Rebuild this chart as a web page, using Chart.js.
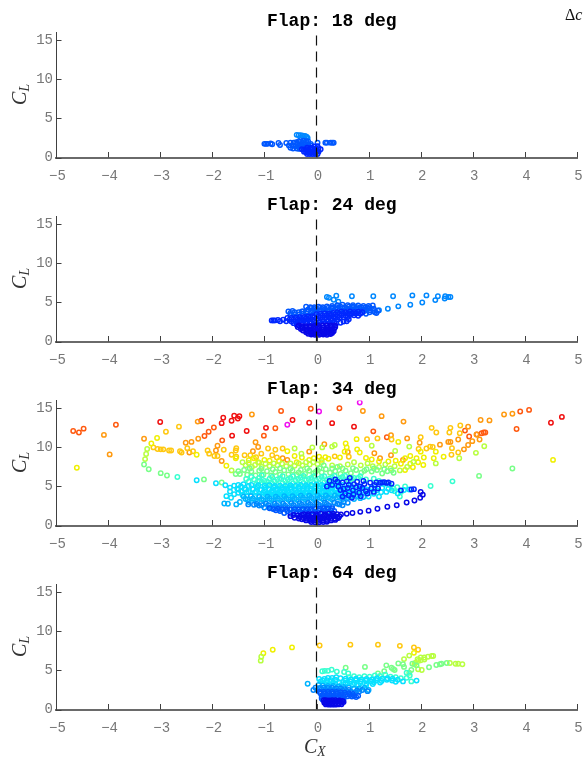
<!DOCTYPE html>
<html>
<head>
<meta charset="utf-8">
<title>Flap polar scatter</title>
<script src="https://cdn.jsdelivr.net/npm/chart.js@4"></script>
<style>
  html, body { margin: 0; padding: 0; background: #fff; overflow: hidden; }
  #page { position: relative; width: 584px; height: 758px; overflow: hidden; }
  canvas { position: absolute; left: 0; }
  .lbl { position: absolute; font-family: "Liberation Serif", serif; color: #333; white-space: nowrap; }
  .lbl sub { font-size: 68%; vertical-align: -3px; line-height: 0; }
  .ylab { font-size: 20px; left: 6px; width: 26px; text-align: center; transform: rotate(-90deg); }
  .flap { position: absolute; left: 267px; font: bold 18px "Liberation Mono", monospace; color: #000; white-space: pre; }
</style>
</head>
<body>
<div id="page">
  <canvas id="c18" width="584" height="184" style="top:0"></canvas>
  <canvas id="c24" width="584" height="184" style="top:184px"></canvas>
  <canvas id="c34" width="584" height="184" style="top:368px"></canvas>
  <canvas id="c64" width="584" height="184" style="top:552px"></canvas>
  <div class="flap" style="top:11px" id="t18"></div>
  <div class="flap" style="top:195px" id="t24"></div>
  <div class="flap" style="top:379px" id="t34"></div>
  <div class="flap" style="top:563px" id="t64"></div>
  <div class="lbl ylab" style="top:83px"><i>C<sub>L</sub></i></div>
  <div class="lbl ylab" style="top:267px"><i>C<sub>L</sub></i></div>
  <div class="lbl ylab" style="top:451px"><i>C<sub>L</sub></i></div>
  <div class="lbl ylab" style="top:635px"><i>C<sub>L</sub></i></div>
  <div class="lbl" style="left:304px;top:735px;font-size:20px"><i>C<sub>X</sub></i></div>
  <div class="lbl" style="left:565px;top:6px;font-size:16px;color:#111">&Delta;<i>c</i></div>
</div>
<script>
const xTicks = [-5, -4, -3, -2, -1, 0, 1, 2, 3, 4, 5];
const yTicks = [0, 5, 10, 15];
const flapTitles = ['Flap: 18 deg', 'Flap: 24 deg', 'Flap: 34 deg', 'Flap: 64 deg'];
const zeroLine = [[0, 0], [0, 16]];

// jet colours used below, hot to cold
const cRed = '#f01010', cRedOrange = '#ff5a10', cOrange = '#ff9a10', cAmber = '#ffc810', cYellow = '#f0f000';
const cLime = '#b8ff40', cGreen = '#78ff88', cTeal = '#38ffd0', cCyan = '#08e0ff', cSky = '#00b4ff';
const cAzure = '#0088ff', cBlue = '#0058ff', cDeep = '#0028ff', cNavy = '#0808e8', cMagenta = '#f010f0';

// Flap 18
const f18Azure = [[-.38,2.9],[-.34,2.85],[-.3,2.85],[-.26,2.8],[-.22,2.75],[-.19,2.65],[-.17,2.5],[-.3,2.55],[-.24,2.45]];
const f18Blue = [[-1,1.75],[-.97,1.75],[-.94,1.75],[-.88,1.8],[-.85,1.7],[-.73,1.85],[-.7,1.6],[-.58,1.85],[-.53,1.55],[-.5,1.9],[-.44,1.9],[-.39,1.95],[.02,1.9],[.17,1.9],[.2,1.9],[.27,1.9],[.3,1.9],[.33,1.88],
  [-.34,2.1],[-.3,2.05],[-.25,2.15],[-.2,2.1],[-.16,2.05],[-.36,1.75],[-.31,1.7],[-.26,1.75],[-.21,1.75],[-.16,1.7],[-.11,1.75],[-.45,1.5],[-.4,1.45],[-.35,1.45],[-.3,1.4],[-.25,1.45],[-.2,1.4],[-.5,1.25],[-.45,1.15],[-.38,1.15],[-.33,1.1],[-.1,1.5]];
const f18Deep = [[-.28,1.05],[-.24,1],[-.2,1.05],[-.16,1],[-.12,1.1],[-.08,1.05],[-.04,1.1],[0,1.1],[.04,1.2],[.08,1.05],[-.24,.75],[-.2,.65],[-.16,.75],[-.12,.65],[-.08,.75],[-.04,.65],[0,.75],[.04,.75],[-.18,.45],[-.13,.45],[-.08,.45],[-.03,.45],[.02,.45],[-.04,1.4],[.02,1.45],[-.1,1.25],[-.18,1.25]];

// Flap 24
const f24Azure = [[.2,5.7],[.24,5.6],[.38,5.85],[.33,5.35],[.42,5.1],[.68,5.8],[1.09,5.8],[1.47,5.8],[1.84,5.9],[2.11,5.9],[2.33,5.8],[2.47,5.8],[2.57,5.7],[2.53,5.7],[2.46,5.5],[2.28,5.3],[2.03,5],[1.8,4.7],[1.57,4.5],[1.37,4.2],[1.2,4],[-.26,1.75]];
const f24Blue = [[-.54,3.85],[-.46,3.9],[-.28,3.85],[-.2,4.45],[-.12,4.4],[-.04,4.4],[.04,4.45],[.12,4.4],[.2,4.5],[.3,4.55],[.4,4.65],[.5,4.7],[.6,4.65],[.7,4.65],[.8,4.6],[.9,4.55],[1,4.55],[1.08,4.6],
  [.3,4.2],[.4,4.2],[.5,4.25],[.6,4.2],[.7,4.3],[.8,4.2],[.9,4.15],[1,4.2],[1.1,4.2],[1.18,3.95],[1.12,3.75],[1.02,3.75],[.95,3.55],[1.15,3.65],[-.16,4.1],[-.08,4],[0,4.1],[.08,4.05],[.16,4.1],[.24,4],[-.5,3.4],[-.42,3.5],[-.34,3.45],[-.26,3.55],[-.18,3.6],[-.1,3.65],
  [-.1,4.3],[-.02,4.25],[.06,4.3],[.14,4.25],[.22,4.3],[.3,4.35],[.38,4.4],[.46,4.45],[.54,4.4],[.62,4.45],[.7,4.45],[.78,4.4],[.86,4.4],[.94,4.35],[1.02,4.4],[.34,3.95],[.44,4],[.54,3.95],[.62,4],[.72,4],[.82,3.95],[.92,3.9],[1.02,4],[1.1,3.9],[-.5,3.65],[-.42,3.75],[-.34,3.75],[-.26,3.85],[-.18,3.85],[-.1,3.85],[-.02,3.8],[.06,3.85],[.14,3.85],[.22,3.8]];
const f24Deep = [[-.86,2.7],[-.83,2.7],[-.8,2.7],[-.74,2.75],[-.7,2.6],[-.64,2.8],[-.58,2.6],[-.56,3],[-.48,3],[-.4,3.05],[-.32,3.1],[-.24,3.15],[-.16,3.2],[-.08,3.25],[0,3.5],[.08,3.55],[.16,3.6],[.24,3.55],[.32,3.65],[.4,3.75],[.48,3.8],[.56,3.75],[.64,3.85],[.72,3.75],[.8,3.8],[.88,3.75],
  [-.48,2.55],[-.4,2.6],[-.32,2.65],[-.24,2.7],[-.16,2.75],[-.08,2.8],[0,2.9],[.08,3.05],[.16,3],[.24,3.1],[.32,3.15],[.4,3.25],[.48,3.35],[.56,3.3],[.64,3.4],[.72,3.35],[.8,3.3],
  [.38,2.35],[.46,2.4],[.52,2.55],[.58,2.6],[.62,2.85],[.4,2.8],[.3,2.7],[.22,2.6],[.14,2.55],[.06,2.45],[-.02,2.4],[-.1,2.35],[-.2,2.3],[-.28,2.25],[-.38,2.15],
  [-.52,2.8],[-.44,2.8],[-.36,2.85],[-.28,2.9],[-.2,2.95],[-.12,3],[-.04,3.1],[.04,3.25],[.12,3.3],[.2,3.35],[.28,3.4],[.36,3.45],[.44,3.55],[.52,3.55],[.6,3.6],[.68,3.6],[.76,3.6],[.84,3.55],[-.44,2.35],[-.36,2.4],[-.28,2.45],[-.2,2.5],[-.12,2.55],[-.04,2.6],[.04,2.7],[.12,2.8],[.2,2.85],[.28,2.95],[.36,3],[.44,3.05],[.52,3.1],[.6,3.15],[-.06,2.15],[.02,2.2],[.1,2.25],[.18,2.3],[.26,2.35],[.34,2.4]];
const f24Navy = [[-.34,2.05],[-.28,1.95],[-.2,1.95],[-.12,1.95],[-.04,2],[.04,2],[.12,2.05],[.2,2.05],[.28,2.05],[.36,2.05],[-.3,1.6],[-.2,1.55],[-.12,1.55],[-.04,1.6],[.04,1.6],[.12,1.55],[.2,1.6],[.28,1.6],[.34,1.65],[-.2,1.2],[-.12,1.15],[-.04,1.2],[.04,1.15],[.12,1.2],[.2,1.2],[.28,1.2],[.33,1.3],[-.1,.9],[-.03,.85],[.05,.85],[.13,.9],[.2,.85],[.27,.95],
  [-.36,1.85],[-.28,1.75],[-.2,1.75],[-.12,1.75],[-.04,1.8],[.04,1.8],[.12,1.8],[.2,1.8],[.28,1.85],[.36,1.85],[-.26,1.4],[-.18,1.35],[-.1,1.35],[-.02,1.4],[.06,1.4],[.14,1.35],[.22,1.4],[.3,1.45],[-.16,1],[-.08,1],[0,1],[.08,1],[.16,1],[.24,1.05],[.3,1.1]];

// Flap 34
const f34Magenta = [[-.56,12.9],[.05,14.6],[.83,15.75]];
const f34Red = [[-3,13.25],[-2.21,13.4],[-1.79,13.8],[-1.82,13.1],[-1.63,13.4],[-1.58,14.05],[-1.48,14],[-1.51,13.7],[-1.34,12.1],[-1.62,11.5],[-.97,12.5],[-.46,13.5],[-.14,13.15],[.3,13.1],[.72,12.65],[4.5,13.15],[4.71,13.9]];
const f34RedOrange = [[-4.67,12.1],[-4.56,11.9],[-4.47,12.4],[-3.85,12.9],[-1.97,12.55],[-2.07,12],[-2.15,11.45],[-1.81,10.9],[-.79,12.45],[-1.01,11.5],[-.68,14.65],[-.11,14.95],[.44,15],[1.09,12.05],[2.85,12.15],[3.84,12.35],[4.08,14.8],[3.91,14.6],[2.93,11.4],[3.08,11.65],[3.17,11.8],[3.21,11.9],[3.24,11.9],[1.35,11.3]];
const f34Orange = [[-4.08,11.6],[-3.97,9.1],[-3.31,11.1],[-2.51,10.6],[-2.4,10.7],[-2.44,9.35],[-2.28,13.3],[-2.27,11.1],[-1.9,10.2],[-1.93,9.6],[-1.24,14.2],[-1.17,10.65],[-1.82,8.25],[-1.12,10.05],[-1.22,9.5],[-.14,9.45],[.89,14.65],[1.25,14],[1.67,13.3],[3.6,14.2],[3.76,14.3],[3.15,13.5],[3.32,13.45],[.15,10.4],[.6,9.4],[1.11,9.25],[1.43,9],[1.43,11.55],[1.74,11.15],[1.98,10.6],[2.72,11],[2.53,10.7],[2.37,10.35],[2.91,12.65],[2.99,10.8],[3.07,11.65],[3.13,11],[2.91,10.3],[2.83,9.75],[2.57,10.7],[1.22,8.6],[1.66,8.4],[-.65,8.6],[-.56,8.4]];
const f34Amber = [[-3.13,10],[-3.05,9.8],[-2.99,9.75],[-2.94,9.75],[-2.83,9.6],[-2.79,9.6],[-2.62,9.5],[-2.59,9.35],[-2.48,9.9],[-2.37,9.5],[-2.89,12],[-2.64,12.65],[-2.09,9.6],[-2.06,9.2],[-1.96,8.9],[-1.9,8.9],[-1.78,9.7],[-1.63,9.05],[-1.54,8.8],[-1.55,9.6],[-1.54,9.9],[-.93,9.85],[-.79,9.7],[-.65,9.85],[2.11,9.85],[2.18,10.1],[2.23,10.05],[2.21,12.5],[2.3,11.9],[2.57,12.5],[2.55,11.9],[2.76,12.8],[2.75,11.8],[2.72,9.35],[2.59,9.05],[2.6,9.9],[2,11.3],[.97,11.05],[1.17,11.15],[1.44,11],[1.96,9.8],[-1.38,9],[-1.27,9],[-1.16,8.75],[-1.06,9.2],[-.85,9],[-.76,8.7],[.35,8.85],[.62,8.8]];
const f34Yellow = [[-4.6,7.4],[-3.06,11.2],[-3.17,10.5],[-2.3,9.05],[-1.73,7.65],[.56,10.5],[.77,11.05],[1.57,10.7],[2.44,8.8],[2.29,9.45],[2,9.45],[2.25,8.6],[-.56,9.5],[-.42,8.9],[-.28,8.7],[-.14,8.4],[-.05,8.6],[.05,8.8],[.17,8.75],[.23,8.55],[.1,8.4],[.45,8.7],[.54,9.45],[.78,9.75],[.83,9.35],[.58,10],[.95,8.65],[1.06,8.45],[1.2,8.2],[1.38,8.2],[1.52,8.3],[1.7,8.6],[1.8,8.9],[1.92,8.6],[2.06,8.7],[1.62,7.9],[1.8,7.9],[1.95,8.1],[2.05,7.75],[1.85,7.45],[1.7,7.1],[-1,8.4],[-.9,8.3],[-.72,8.25],[-.38,8.1],[-1.55,8.6],[-1.3,8.35],[-1.12,8.1],[-1.2,8.6],[4.54,8.4]];
const f34Lime = [[-3.25,9.8],[-3.27,9.15],[-3.29,8.5],[-1.63,7.05],[-.42,9.85],[-.29,9.2],[-.08,10],[.11,10],[.3,10.1],[.35,10.3],[1.06,10.2],[1.51,9.55],[1.78,10.1],[2.29,7.95],[2.74,8.6],[3.06,9.3],[3.22,10.15],
  [-1.42,8.1],[-1.36,7.7],[-1.3,8],[-1.24,7.5],[-1.18,7.75],[-1.1,8.05],[-1.05,7.5],[-.98,7.9],[-.9,7.6],[-.82,7.95],[-.75,7.7],[-.66,7.9],[-.58,7.6],[-.5,7.95],[-.42,7.65],[-.34,7.95],[-.27,7.7],[-.2,8.1],[-.13,7.8],[-.06,8.1],[.02,7.85],[.1,8.1],
  [.3,7.7],[.45,7.6],[.6,7.8],[.72,8.1],[.85,7.7],[.98,7.95],[1.08,7.6],[1.2,7.5],[1.32,7.8],[1.42,7.3],[1.5,7.6],[1.6,7.05],[1.74,7.5],[1.86,8.15]];
const f34Green = [[-3.31,7.8],[-3.22,7.2],[-2.99,6.7],[-2.87,6.4],[-2.16,5.9],[-1.82,5.5],[3.76,7.3],[3.12,6.35],
  [-1.55,6.6],[-1.47,6.6],[-1.39,7.1],[-1.33,6.5],[-1.25,6.9],[-1.17,6.4],[-1.1,7],[-1.02,6.5],[-.95,6.95],[-.87,6.4],[-.79,6.85],[-.7,6.5],[-.62,7.05],[-.54,6.55],[-.46,7],[-.38,6.5],[-.3,7.1],[-.22,6.6],[-.14,7],[-.06,6.65],[.02,7.1],[.1,6.8],[.18,7.2],[.26,6.75],[.36,6.95],[.46,6.6],[.56,7],[.66,6.7],[.76,7.1],[.86,6.75],[.96,7.2],[1.06,6.9],[1.16,7.1],[1.26,6.65],[1.36,6.95],[1.48,6.75],[.4,7.5],[.14,7.7],
  [-1.5,6.95],[-1.28,7.3],[-1.06,7.25],[-.84,7.2],[-.7,7.3],[-.5,7.25],[-.34,6.8],[-.18,7.3],[-.02,6.85],[.06,7.35],[.3,7.3],[.5,7.3],[.7,7.35],[.92,7],[1.1,7.3],[1.3,7.2],[1.44,7.05]];
const f34Teal = [[-2.67,6.2],[-1.2,5.9],[-1.1,6.1],[-1,5.7],[-.9,6],[-.8,5.65],[-.7,6.05],[-.6,5.7],[-.5,6.1],[-.4,5.75],[-.3,6.15],[-.2,5.8],[-.1,6.1],[0,5.75],[.1,6.2],[.2,5.8],[.3,6.15],[.4,5.85],[.5,6.2],[.62,5.75],[.72,6.1],[.84,6.3],[2.61,5.65],[2.19,5.05],
  [-1.3,5.6],[-1.15,5.3],[-1.05,5.5],[-.95,5.25],[-.85,5.35],[-.75,5.2],[-.65,5.4],[-.55,5.2],[-.45,5.4],[-.35,5.25],[-.25,5.45],[-.15,5.3],[-.05,5.45],[.05,5.35],[.15,5.5],[.25,5.3],[.35,5.55],[1.1,6],[1.3,5.3],[1.5,4.4],[1.6,3.7],
  [-1.35,5.95],[-1.25,6.2],[-1.1,5.7],[-1.05,6.4],[-.95,5.65],[-.85,6.2],[-.75,5.9],[-.65,6.3],[-.55,5.9],[-.45,6.3],[-.35,5.95],[-.25,6.35],[-.15,5.95],[-.05,6.3],[.05,6],[.15,6.3],[.25,6],[.35,6.35],[.45,6],[.55,6.35],[.68,6],[.8,6.1],[.95,5.9],[1.2,5.7],[1.4,5.2],[1.55,4.9],[1.7,5],[1.48,4.7],[1.62,4.3]];
const f34Cyan = [[-2.3,5.8],[-1.93,5.4],[-1.75,5.15],[-1.66,4.85],[-1.58,5.1],[-1.52,4.7],[-1.45,5],[-1.38,4.65],[-1.3,5.05],[-1.22,4.6],[-1.14,4.95],[-1.06,4.55],[-.98,4.85],[-.9,4.6],[-.82,4.9],[-.74,4.55],[-.66,4.85],[-.58,4.6],[-.5,4.9],[-.42,4.65],[-.34,4.95],[-.26,4.65],[-.18,4.95],[-.1,4.7],[-.02,5],[.06,4.7],[.14,5],[.22,4.7],[.3,5.05],[.38,4.75],[.46,5.05],[.56,4.7],[.66,5.15],[.76,4.6],[.86,4.95],[.96,4.6],[1.06,4.9],[1.16,4.5],[1.26,4.8],[1.34,4.3],[1.44,4.5],[1.56,4.1],[1.68,4.55],[1.78,4.6],
  [-1.73,3.76],[-1.64,3.55],[-1.5,4.2],[-1.42,3.9],[-1.34,4.25],[-1.26,3.85],[-1.18,4.2],[-1.1,3.8],[-1.02,4.2],[-.94,3.8],[-.86,4.2],[-.78,3.8],[-.7,4.2],[-.62,3.85],[-.54,4.25],[-.46,3.85],[-.38,4.25],[-.3,3.9],[-.22,4.3],[-.14,3.95],[-.06,4.35],[.02,4],[.1,4.35],[.18,4],[.26,4.35],[.36,4],[.46,4.3],[.56,3.95],[.66,4.2],[.76,3.9],[.88,4.2],[1,3.7],[1.1,4.05],[1.2,3.7],
  [-1.66,4.35],[-1.58,4],[-1.5,4.6],[-1.44,4.35],[-1.36,4.6],[-1.3,4.3],[-1.22,4.65],[-1.16,4.35],[-1.08,4.6],[-1,4.4],[-.92,4.65],[-.86,4.4],[-.78,4.65],[-.7,4.4],[-.62,4.7],[-.56,4.4],[-.48,4.7],[-.4,4.45],[-.32,4.75],[-.26,4.45],[-.18,4.75],[-.1,4.5],[-.02,4.75],[.04,4.5],[.12,4.8],[.2,4.5],[.28,4.8],[.36,4.55],[.44,4.8],[.54,4.5],[.64,4.8],[.74,4.4],[.86,4.7],[.98,4.4],[1.12,4.75],[1.24,4.25],[1.38,4.7],
  [-1.5,5.2],[-1.4,5.3],[-1.25,5.2],[-1.12,5.15],[-1,5.1],[-.9,5.15],[-.8,5.05],[-.7,5.1],[-.6,5.05],[-.5,5.15],[-.4,5.1],[-.3,5.2],[-.2,5.15],[-.1,5.2],[0,5.25],[.1,5.2],[.2,5.2],[.3,5.25],[.4,5.3],[.5,5.2],
  [-.98,4],[-.9,4],[-.82,4],[-.74,4.02],[-.66,4],[-.58,4.05],[-.5,4.05],[-.42,4.05],[-.34,4.1],[-.26,4.1],[-.18,4.15],[-.1,4.15],[-.02,4.2],[.06,4.2],[.14,4.2],[.22,4.2],[.3,4.2],[.4,4.15],[.5,4.15],[.62,4.1],[.72,4.05],[.84,4.05]];
const f34Sky = [[-1.77,2.82],[-1.7,2.78],[-1.54,2.7],[-1.47,3],[-1.36,3.4],[-1.3,3],[-1.22,3.45],[-1.14,3.05],[-1.06,3.4],[-.98,3],[-.9,3.45],[-.82,3],[-.74,3.45],[-.66,3],[-.58,3.5],[-.5,3.05],[-.42,3.5],[-.34,3.1],[-.26,3.55],[-.18,3.1],[-.1,3.6],[-.02,3.15],[.06,3.6],[.14,3.25],[.22,3.6],[.3,3.3],[.4,3.6],[.5,3.35],[.6,3.55],[.72,3.4],[.84,3.5],
  [-1.4,3.7],[-1.32,3.3],[-1.26,3.75],[-1.18,3.25],[-1.1,3.65],[-1.02,3.25],[-.94,3.7],[-.86,3.25],[-.78,3.7],[-.7,3.25],[-.62,3.75],[-.54,3.3],[-.46,3.75],[-.38,3.3],[-.3,3.8],[-.22,3.35],[-.14,3.8],[-.06,3.4],[.02,3.85],[.1,3.45],[.18,3.85],[.26,3.5],[.35,3.85],[.45,3.55],[.55,3.8],[.65,3.6],[.78,3.75],[.9,3.65]];
const f34Azure = [[-1.31,2.7],[-1.2,2.65],[-1.1,2.55],[-1,2.3],[-.92,2.6],[-.84,2.15],[-.76,2.55],[-.68,2.05],[-.6,2.55],[-.52,2.1],[-.44,2.6],[-.36,2.15],[-.28,2.65],[-.2,2.2],[-.12,2.7],[-.04,2.25],[.04,2.7],[.12,2.35],[.2,2.75],[.3,2.45],[.4,2.8],[.5,2.6],[.6,2.9],[.2,2.3],
  [-1.15,2.75],[-1.05,2.6],[-.97,2.8],[-.88,2.35],[-.8,2.8],[-.72,2.3],[-.64,2.8],[-.56,2.3],[-.48,2.85],[-.4,2.35],[-.32,2.85],[-.24,2.4],[-.16,2.9],[-.08,2.45],[0,2.9],[.08,2.5],[.16,2.95],[.24,2.55],[.34,2.95],[.44,2.7],[.52,3]];
const f34Low = [[-.78,1.95],[-.7,1.85],[-.62,1.6],[-.56,1.85],[-.5,1.5],[-.44,1.75],[-.38,1.55],[-.32,1.8],[-.26,1.6],[-.2,1.85],[-.14,1.65],[-.08,1.85],[-.02,1.65],[.04,1.9],[.1,1.7],[.16,1.95],[.22,1.75],[.28,1.95],[.34,1.85],[-.9,2.2],[-.82,2.1],[-.74,2.15],[-.66,2.1],[-.58,2.1],[-.5,2.05],[-.42,2.1],[-.34,2.05],[-.26,2.1],[-.18,2.1],[-.1,2.1],[-.02,2.15],[.06,2.15],[.14,2.2],[.22,2.15],[.3,2.2]];
const f34Fleck = [[.5,5.5],[.64,6.1],[.72,5.3],[.83,5],[.71,3.97],[.9,5.7],[1.03,5.47],[1.12,5.2],[1.22,5.47],[1.3,5.55],[1.38,5.5],[1.44,5.35],[.6,4.8],[.95,4.4],[1.05,4.7],[.82,4.2],[.58,5.65],[1.62,4.5],[1.82,4.6],[1.87,4.65],[.36,5.9],[.46,4.55],
  [.3,5.2],[.42,5],[.52,4.7],[.62,5.2],[.7,4.5],[.78,5.6],[.88,4.8],[.92,5.3],[.98,4.1],[1.1,4.3],[1.15,5.5],[.68,3.55],[.85,3.75],[.4,5.6],[.25,5.7],[.55,4.1],[.76,4.9],[1.18,4.75],[.5,3.7],[.62,3.85],[1.26,5.5],[1.34,5.45],[.2,5]];
const f34Navy = [[.47,1.4],[.58,1.5],[.69,1.6],[.84,1.75],[1,1.9],[1.17,2.15],[1.36,2.4],[1.54,2.6],[1.73,2.95],[1.88,3.2],[1.99,3.55],[2.04,3.95],[2,4.3],[-.32,1.1],[-.24,.9],[-.16,1.25],[-.08,.9],[0,1.25],[.08,.95],[.16,1.3],[.24,1],[.32,1.3],[.4,1.05],[.44,1.2],[-.2,.65],[-.12,.6],[-.04,.62],[.04,.6],[.12,.65],[.2,.6],[.28,.65],[.36,.72],
  [-.5,1.2],[-.42,1],[-.34,.9],[-.28,.8],[-.2,.85],[-.12,.8],[-.04,.82],[.04,.8],[.12,.85],[.2,.82],[.28,.85],[.36,.9],[.42,.95],[-.44,1.35],[-.36,1.3],[-.28,1.35],[-.2,1.1],[-.12,1.1],[-.04,1.08],[.04,1.1],[.12,1.15],[.2,1.15],[.28,1.15],[.36,1.2],[-.1,.45],[-.03,.42],[.05,.42],[.13,.45],[.2,.48],[-.24,1.45],[-.16,1.45],[-.08,1.45],[0,1.45],[.08,1.5],[.16,1.45],[.24,1.5],[.32,1.5],[.4,1.45]];

// Flap 64
const f64Amber = [[.06,8.2],[.65,8.3],[1.18,8.3],[1.6,8.15],[1.87,7.95],[1.95,7.65]];
const f64Yellow = [[-.47,7.95],[-.84,7.65],[-1.02,7.2],[1.87,7.25]];
const f64Lime = [[-1.06,6.75],[-1.07,6.25],[1.78,6.9],[1.68,6.45],[2.21,6.85],[2.24,6.85],[2.14,6.75],[2.07,6.65],[2,6.65],[1.94,6.45],[1.9,6],[1.88,5.8],[1.95,5.15],[2.02,5.05],[2.72,5.85],[2.8,5.8],[2.67,5.85],[2.56,5.95],[2,6.3],[2.07,6.4],[1.95,6.2]];
const f64Green = [[2.3,5.7],[2.37,5.8],[2.4,5.85],[2.5,5.95],[2.16,5.4],[1.57,5.9],[1.66,5.8],[1.68,5.45],[1.34,5.65],[1.44,5.35],[1.5,5.05],[1.3,4.9],[1.18,4.6],[1.84,5.85],[1.82,5.05],[1.92,5.65],[1.78,4.7],[1.47,5.2],[.56,5.35],[.93,5.45]];
const f64Teal = [[.11,4.9],[.16,4.95],[.22,4.95],[.29,5.1],[.39,4.85],[.53,4.8],[.61,4.6],[1.73,4.7],[1.79,4.35],[1.73,4.05],[1.82,3.6],[.62,4.15],[.72,4.25],[.82,4.15],[.92,4.25],[1.02,4.2],[1.12,4.35],[1.22,4.3],[1.32,4.45],[1.42,4.2],[1.52,4.15],[1.62,4]];
const f64Cyan = [[1.92,3.7],[1.66,3.6],[1.52,3.55],[.15,3.9],[.22,4.05],[.3,4.05],[.38,4.15],[.46,4],[.55,3.7],[.65,3.6],[.75,3.75],[.85,3.6],[.95,3.7],[1.05,3.6],[1.15,3.75],[1.25,3.65],[1.35,3.8],[1.45,3.7],[.08,3.6],[.2,3.4],[.32,3.5],[.44,3.4],[.56,3.3],[.7,3.15],[.8,3.1],[.95,3.05],[1.08,3.25],
  [.05,3.9],[.12,3.7],[.2,3.75],[.28,3.75],[.36,3.8],[.56,3.95],[.66,3.85],[.76,3.95],[.86,3.85],[.96,3.9],[1.06,3.85],[1.16,4],[1.26,3.95],[1.36,4],[1.46,3.95],[1.56,3.8],[.6,3.4],[.72,3.4],[.84,3.35],[.96,3.3],[1.1,3.5],[1.22,3.45],[.48,3.15],[.36,3.2],[.24,3.2],[.12,3.3]];
const f64Sky = [[-.17,3.3],[.04,3.15],[.12,3.05],[.22,3],[.32,3],[.42,2.95],[.52,2.9],[.62,2.8],[.72,2.65],[.82,2.7],[.92,2.75],[1,2.5]];
const f64Azure = [[-.06,2.5],[.02,2.5],[.1,2.55],[.18,2.5],[.26,2.5],[.34,2.5],[.42,2.45],[.5,2.4],[.58,2.35],[.66,2.25],[.74,2.2],[.82,2.3],
  [-.02,2.8],[.06,2.75],[.14,2.8],[.22,2.75],[.3,2.75],[.38,2.7],[.46,2.7],[.54,2.6],[.62,2.5],[.78,2.45],[.88,2.5],[.98,2.35]];
const f64Blue = [[.08,2.05],[.16,2.05],[.24,2],[.32,2.05],[.4,2.05],[.48,1.95],[.56,1.9],[.64,1.85],[.72,1.75],[.8,1.75],[.1,1.6],[.18,1.6],[.26,1.55],[.34,1.6],[.42,1.6],[.5,1.5],[.12,1.25],
  [.1,1.4],[.16,1.4],[.22,1.4],[.28,1.4],[.34,1.4],[.4,1.4],[.46,1.35],[.52,1.3],[.12,1.85],[.2,1.85],[.28,1.8],[.36,1.85],[.44,1.8],[.52,1.75],[.6,1.7],[.68,1.65],[.76,1.6],[.06,2.25],[.14,2.25],[.22,2.25],[.3,2.25],[.38,2.25],[.46,2.2],[.54,2.15],[.62,2.1],[.7,2]];
const f64Deep = [[.18,1.2],[.24,1.15],[.3,1.2],[.36,1.2],[.44,1.15],[.5,1.1],[.15,.85],[.2,.8],[.25,.75],[.3,.8],[.36,.8],[.42,.8],[.48,.85],
  [.16,.95],[.22,1],[.28,1],[.34,1],[.4,1],[.46,1],[.52,.95],[.18,.65],[.24,.62],[.3,.62],[.36,.62],[.42,.65],[.48,.68],[.14,1.2]];

// each list goes from the back (hot) to the front (cold)
const flap18Groups = [[f18Azure, cAzure], [f18Blue, cBlue], [f18Deep, cDeep]];
const flap24Groups = [[f24Azure, cAzure], [f24Blue, cBlue], [f24Deep, cDeep], [f24Navy, cNavy]];
const flap34Groups = [[f34Magenta, cMagenta], [f34Red, cRed], [f34RedOrange, cRedOrange], [f34Orange, cOrange], [f34Amber, cAmber], [f34Yellow, cYellow], [f34Lime, cLime], [f34Green, cGreen], [f34Teal, cTeal], [f34Cyan, cCyan], [f34Sky, cSky], [f34Azure, cAzure], [f34Low, cBlue], [f34Fleck, cDeep], [f34Navy, cNavy]];
const flap64Groups = [[f64Amber, cAmber], [f64Yellow, cYellow], [f64Lime, cLime], [f64Green, cGreen], [f64Teal, cTeal], [f64Cyan, cCyan], [f64Sky, cSky], [f64Azure, cAzure], [f64Blue, cBlue], [f64Deep, cNavy]];

const monoFont = '"Liberation Mono", monospace';
const pts = list => list.map(p => ({ x: p[0], y: p[1] }));

// ticks point into the plot, which Chart.js does not offer
const inwardTicks = {
  id: 'inwardTicks',
  afterDatasetsDraw(chart) {
    const { ctx, chartArea, scales } = chart;
    ctx.save();
    ctx.strokeStyle = '#404040';
    ctx.lineWidth = 1;
    ctx.beginPath();
    xTicks.forEach(v => {
      const px = Math.round(scales.x.getPixelForValue(v)) + 0.5;
      ctx.moveTo(px, chartArea.bottom);
      ctx.lineTo(px, chartArea.bottom - 5.5);
    });
    yTicks.forEach(v => {
      const py = Math.round(scales.y.getPixelForValue(v)) + 0.5;
      ctx.moveTo(chartArea.left, py);
      ctx.lineTo(chartArea.left + 5.5, py);
    });
    ctx.stroke();
    ctx.restore();
  }
};

function drawFlap(id, titleId, title, groups) {
  document.getElementById(titleId).textContent = title;
  const datasets = groups.map((g, i) => ({
    data: pts(g[0]),
    borderColor: g[1],
    backgroundColor: 'transparent',
    pointRadius: 2.2,
    pointBorderWidth: 1.5,
    order: groups.length - i
  }));
  datasets.push({
    type: 'line',
    data: pts(zeroLine),
    borderColor: '#111',
    borderWidth: 1.2,
    borderDash: [10, 6],
    pointRadius: 0,
    order: 0
  });
  new Chart(document.getElementById(id), {
    type: 'scatter',
    data: { datasets },
    plugins: [inwardTicks],
    options: {
      responsive: false,
      animation: false,
      layout: { padding: { top: 32.5, right: 7 } },
      plugins: { legend: { display: false }, tooltip: { enabled: false } },
      scales: {
        x: {
          type: 'linear', min: -5, max: 5,
          afterFit: s => { s.height = 26.5; s.paddingRight = 0; s.paddingLeft = 0; },
          afterBuildTicks: s => { s.ticks = xTicks.map(value => ({ value })); },
          grid: { display: false, drawTicks: false },
          border: { color: '#6a6a6a', width: 2 },
          ticks: { color: '#777', font: { family: monoFont, size: 14 }, padding: 10, labelOffset: 1.5, maxRotation: 0, autoSkip: false,
            callback: v => String(v).replace('-', '\u2212') }
        },
        y: {
          type: 'linear', min: 0, max: 16,
          afterFit: s => { s.width = 56; s.paddingTop = 0; },
          afterBuildTicks: s => { s.ticks = yTicks.map(value => ({ value })); },
          grid: { display: false, drawTicks: false },
          border: { color: '#404040', width: 1 },
          ticks: { color: '#777', font: { family: monoFont, size: 14 }, padding: 3 }
        }
      }
    }
  });
}

drawFlap('c18', 't18', flapTitles[0], flap18Groups);
drawFlap('c24', 't24', flapTitles[1], flap24Groups);
drawFlap('c34', 't34', flapTitles[2], flap34Groups);
drawFlap('c64', 't64', flapTitles[3], flap64Groups);
</script>
</body>
</html>
